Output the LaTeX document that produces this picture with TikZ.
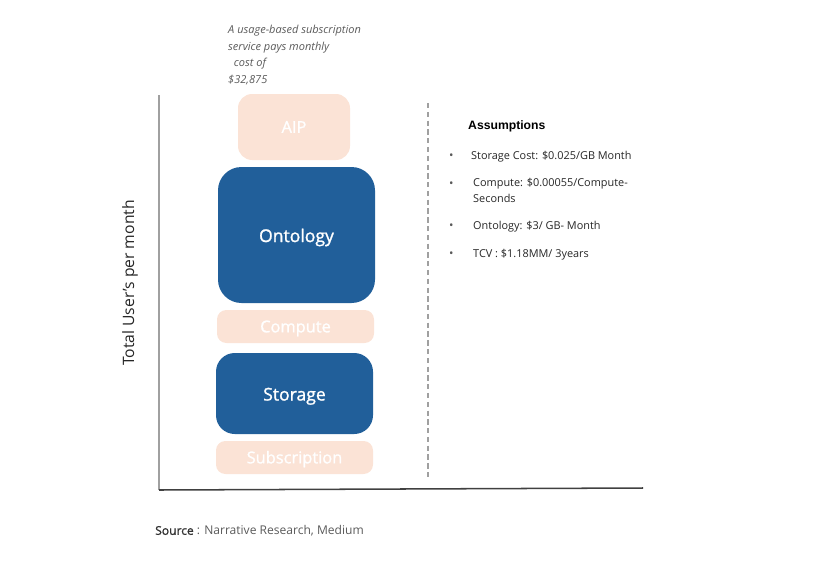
\documentclass[tikz,border=0pt]{standalone}
\usepackage{fontspec}
\setmainfont{Open Sans}
\newfontfamily\arialfont{Liberation Sans}
\newfontfamily\semibold[FakeBold=1.3]{Open Sans}
\usepackage{tikz}

\definecolor{barblue}{RGB}{33,95,154}
\definecolor{peach}{RGB}{251,227,214}
\definecolor{axisgray}{RGB}{160,160,160}
\definecolor{textgray}{RGB}{90,90,90}

\tikzset{
  bluebox/.style={fill=barblue, text=white, font=\semibold\fontsize{15}{16}\selectfont,
    text height=15.5pt, text depth=3.5pt},
  peachbox/.style={fill=peach, text=white, font=\semibold\fontsize{14}{16}\selectfont,
    text height=13.5pt, text depth=3.5pt},
  note/.style={font=\fontsize{9.3}{13.5}\selectfont, text=black!85, anchor=west, inner sep=0pt},
}

\begin{document}
\begin{tikzpicture}[x=0.03cm, y=-0.03cm]
  \useasboundingbox (0,0) rectangle (828,577);

  % axes
  \coordinate (top) at (159,95);
  \coordinate (origin) at (159,490);
  \coordinate (xend) at (643,488);
  \draw[axisgray, line width=1.2pt] (top) -- (origin);
  \draw[black!75, line width=1.3pt] (origin) -- (xend);
  \node[rotate=90, font=\fontsize{13.4}{15}\selectfont, text=black!85] (ylabel) at (130,283) {Total User's per month};

  % stacked blocks
  \node[peachbox, rounded corners=12, minimum width=112*0.03cm, minimum height=66*0.03cm] (aip) at (294,127) {AIP};
  \node[bluebox, rounded corners=20, minimum width=157*0.03cm, minimum height=136*0.03cm] (onto) at (296.5,235) {Ontology};
  \node[peachbox, rounded corners=8, minimum width=157*0.03cm, minimum height=33*0.03cm] (comp) at (295.5,326.5) {Compute};
  \node[bluebox, rounded corners=16, minimum width=157*0.03cm, minimum height=81*0.03cm] (stor) at (294.5,393.5) {Storage};
  \node[peachbox, rounded corners=8, minimum width=157*0.03cm, minimum height=33*0.03cm] (subs) at (294.5,457.5) {Subscription};

  \node[anchor=north west, align=left, inner sep=0pt, text=textgray,
        font=\itshape\fontsize{9.4}{14.2}\selectfont] (cost) at (228,25)
    {A usage-based subscription\\service pays monthly\\\ \ cost of\\\$32,875};

  % divider
  \coordinate (dtop) at (428,103);
  \coordinate (dbot) at (428,478);
  \draw[axisgray, line width=1pt, dash pattern=on 4.5pt off 3pt] (dtop) -- (dbot);

  % assumptions
  \node[anchor=west, inner sep=0pt, font=\arialfont\bfseries\fontsize{10.4}{12}\selectfont] (ass) at (468,126) {Assumptions};
  \foreach \y in {157,185,227,255}
    \node[note, font=\fontsize{10}{10}\selectfont, text=textgray] at (449,\y) {\textbullet};
  \node[note] (a1) at (471,157) {Storage Cost: \$0.025/GB Month};
  \node[note, align=left, anchor=north west] (a2) at (473,178) {Compute: \$0.00055/Compute-\\Seconds};
  \node[note] (a3) at (473,227) {Ontology: \$3/ GB- Month};
  \node[note] (a4) at (473,255) {TCV : \$1.18MM/ 3years};

  \node[anchor=west, inner sep=0pt, font=\fontsize{10.3}{12}\selectfont, text=textgray] (src) at (155,531)
    {{\semibold\color{black!80}Source} : Narrative Research, Medium};
\end{tikzpicture}
\end{document}
